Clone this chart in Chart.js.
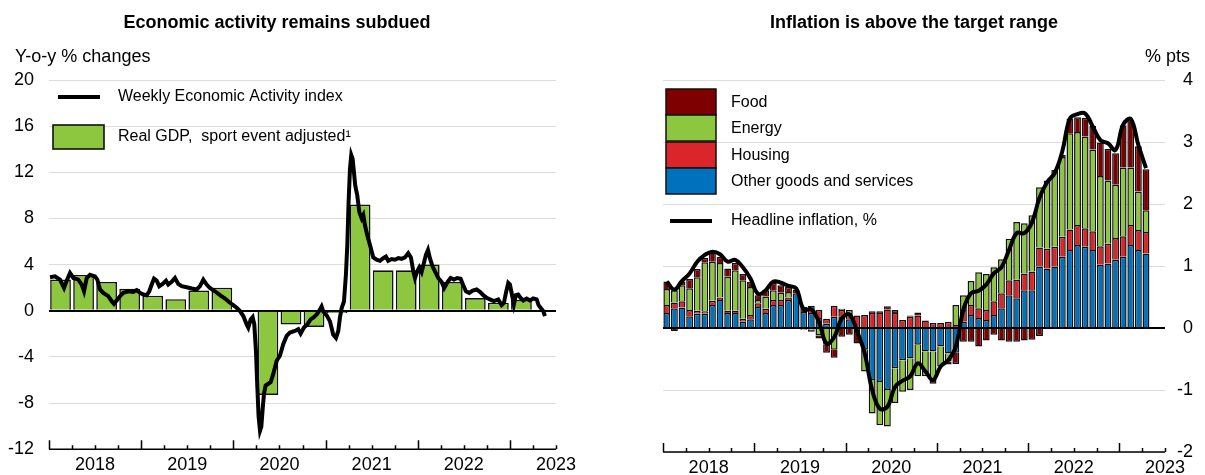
<!DOCTYPE html>
<html>
<head>
<meta charset="utf-8">
<script src="https://cdn.jsdelivr.net/npm/chart.js@4.4.0/dist/chart.umd.min.js"></script>
<style>
  body { margin: 0; background: #fff; }
  #wrap { position: relative; width: 1205px; height: 475px; }
  canvas { position: absolute; top: 0; }
  #left { left: 0; }
  #right { left: 600px; }
</style>
</head>
<body>
<div id="wrap">
  <canvas id="left" width="600" height="475"></canvas>
  <canvas id="right" width="605" height="475"></canvas>
</div>
<script>
const FONT = "Arial, 'Liberation Sans', sans-serif";
Chart.defaults.font.family = FONT;
Chart.defaults.color = '#000';

const yearLabels = [2018, 2019, 2020, 2021, 2022, 2023];

// Left: real GDP (quarterly, y-o-y %)
const gdpQuarters = ['2018Q1','2018Q2','2018Q3','2018Q4','2019Q1','2019Q2','2019Q3','2019Q4',
  '2020Q1','2020Q2','2020Q3','2020Q4','2021Q1','2021Q2','2021Q3','2021Q4',
  '2022Q1','2022Q2','2022Q3','2022Q4','2023Q1'];
const gdpValues = [2.7, 3.1, 2.5, 1.9, 1.3, 1.0, 1.75, 2.0,
  -0.1, -7.3, -1.2, -1.4, -0.2, 9.2, 3.5, 3.5,
  4.0, 2.5, 1.1, 0.7, 0.95];

// Left: weekly economic activity index (date as decimal year)
const waiDates = [2018.011,2018.065,2018.119,2018.163,2018.19,2018.228,2018.264,2018.318,2018.355,2018.38,
  2018.409,2018.445,2018.499,2018.524,2018.553,2018.589,2018.643,2018.68,2018.705,2018.734,
  2018.77,2018.806,2018.86,2018.914,2018.951,2018.987,2019.023,2019.06,2019.088,2019.114,
  2019.139,2019.168,2019.196,2019.233,2019.269,2019.294,2019.331,2019.367,2019.402,2019.439,
  2019.493,2019.548,2019.602,2019.638,2019.674,2019.71,2019.746,2019.8,2019.855,2019.909,
  2019.963,2019.999,2020.036,2020.072,2020.108,2020.144,2020.162,2020.188,2020.209,2020.227,
  2020.245,2020.26,2020.274,2020.289,2020.303,2020.317,2020.332,2020.35,2020.379,2020.404,
  2020.433,2020.47,2020.505,2020.541,2020.578,2020.614,2020.668,2020.704,2020.73,2020.766,
  2020.802,2020.838,2020.867,2020.904,2020.932,2020.957,2020.975,2021.012,2021.048,2021.083,
  2021.113,2021.138,2021.156,2021.175,2021.2,2021.221,2021.236,2021.25,2021.265,2021.279,
  2021.294,2021.308,2021.322,2021.344,2021.366,2021.392,2021.41,2021.427,2021.452,2021.482,
  2021.518,2021.554,2021.59,2021.626,2021.655,2021.68,2021.717,2021.753,2021.789,2021.825,
  2021.861,2021.897,2021.926,2021.952,2021.97,2021.995,2022.017,2022.042,2022.067,2022.089,
  2022.111,2022.132,2022.161,2022.187,2022.222,2022.259,2022.287,2022.324,2022.357,2022.393,
  2022.428,2022.465,2022.494,2022.523,2022.559,2022.596,2022.639,2022.675,2022.711,2022.748,
  2022.783,2022.826,2022.873,2022.91,2022.935,2022.957,2022.982,2023.0,2023.022,2023.043,
  2023.065,2023.09,2023.116,2023.145,2023.181,2023.217,2023.253,2023.29,2023.311,2023.333,
  2023.362,2023.38];
const waiValues = [2.9,2.98,2.7,1.98,2.55,3.27,2.84,2.7,2.27,1.69,
  2.84,3.12,2.98,2.7,1.84,1.55,1.26,0.83,0.6,0.89,
  1.26,1.55,1.69,1.64,1.78,1.55,1.41,1.35,1.69,2.27,
  2.78,2.61,2.13,2.33,2.61,2.27,2.5,2.84,2.33,2.13,
  2.04,1.93,1.84,2.13,2.7,2.27,1.98,1.69,1.35,1.06,
  0.69,0.49,0.26,-0.03,-0.46,-1.18,-1.46,-0.75,-0.55,-1.18,
  -3.47,-6.6,-9.2,-10.4,-10.06,-8.6,-7.2,-6.48,-6.33,-6.2,
  -5.48,-4.33,-3.9,-2.9,-2.18,-1.89,-1.75,-1.6,-1.98,-1.46,
  -1.18,-0.75,-0.6,-0.32,0.0,0.37,-0.06,-0.4,-0.92,-2.06,
  -2.35,-1.75,-0.6,0.23,0.8,3.12,5.7,9.43,12.3,13.5,
  13.16,12.0,10.87,10.0,8.57,8.0,8.28,7.43,6.57,5.7,
  4.62,4.42,4.33,4.56,4.7,4.33,4.48,4.42,4.56,4.5,
  4.62,4.99,4.62,3.41,2.84,3.41,3.76,3.36,4.13,4.85,
  5.27,4.56,3.84,3.41,2.84,2.5,1.98,2.5,2.84,2.7,
  2.84,2.78,2.21,1.69,1.55,1.75,1.84,1.64,1.35,1.12,
  0.98,0.83,0.98,0.49,0.69,1.55,2.41,2.27,1.41,0.55,
  1.35,1.41,1.12,0.89,1.06,0.89,1.06,0.98,0.49,0.26,
  -0.03,-0.46];

// Right: CPI contributions (monthly, % pts), Jan 2018 - Apr 2023
const cpiFirstYear = 2018;
const otherGoods = [0.24,0.32,0.33,0.19,0.23,0.23,0.37,0.45,0.24,0.24,0.10,0.14,
  0.34,0.24,0.37,0.37,0.45,0.56,0.26,0.24,0.16,0.07,0.18,0.19,
  0.14,-0.05,-0.35,-0.84,-0.87,-1.00,-0.65,-0.52,-0.49,-0.27,-0.38,-0.38,
  -0.30,-0.41,-0.40,0.10,0.21,0.16,0.13,0.21,0.32,0.53,0.48,0.61,
  0.61,0.99,0.96,0.99,1.15,1.26,1.34,1.31,1.26,1.02,1.04,1.10,
  1.15,1.34,1.26,1.20];
const housing = [0.13,0.09,0.10,0.10,0.05,0.04,0.07,0.04,0.04,0.04,0.05,0.07,
  0.06,0.07,0.08,0.08,0.04,0.00,0.00,0.12,0.13,0.08,0.18,0.10,
  0.10,0.20,0.21,0.24,0.24,0.30,0.24,0.13,0.18,0.20,0.12,0.08,
  0.08,0.10,0.05,0.19,0.16,0.16,0.16,0.22,0.24,0.24,0.30,0.27,
  0.30,0.31,0.32,0.32,0.32,0.33,0.32,0.30,0.30,0.30,0.32,0.35,
  0.33,0.32,0.32,0.35];
const energy = [0.26,0.20,0.26,0.35,0.54,0.79,0.63,0.56,0.55,0.65,0.62,0.45,
  0.05,0.20,0.16,0.12,0.09,0.00,-0.03,-0.03,-0.12,-0.27,-0.35,0.02,
  0.05,0.00,-0.35,-0.54,-0.70,-0.59,-0.56,-0.51,-0.51,-0.51,-0.40,-0.46,
  -0.32,-0.13,0.32,0.24,0.39,0.58,0.58,0.55,0.55,0.67,0.93,0.81,
  0.91,0.97,1.10,1.24,1.29,1.55,1.50,1.48,1.32,1.13,1.02,0.86,
  1.11,0.93,0.62,0.35];
const food = [0.12,-0.05,0.06,0.15,0.13,0.07,0.15,0.10,0.13,0.12,0.10,0.08,
  0.08,0.10,0.12,0.12,0.08,0.06,0.08,-0.03,-0.05,-0.13,-0.13,-0.14,
  -0.11,-0.20,0.00,0.03,0.03,0.05,0.05,0.00,0.02,0.05,0.00,-0.06,
  0.00,-0.05,-0.18,-0.22,-0.22,-0.30,-0.20,-0.11,-0.20,-0.22,-0.22,-0.20,
  -0.19,-0.13,-0.02,0.00,0.03,0.24,0.24,0.30,0.38,0.54,0.51,0.51,
  0.68,0.77,0.73,0.66];
const headline = [0.75,0.62,0.76,0.88,1.07,1.18,1.23,1.19,1.07,1.10,0.98,0.80,
  0.55,0.61,0.75,0.73,0.68,0.64,0.30,0.30,0.10,-0.25,-0.15,0.15,
  0.22,-0.05,-0.40,-1.00,-1.30,-1.27,-0.95,-0.85,-0.78,-0.57,-0.70,-0.84,
  -0.62,-0.52,-0.30,0.30,0.56,0.60,0.70,0.88,0.98,1.26,1.53,1.53,
  1.70,2.10,2.35,2.50,2.85,3.38,3.45,3.46,3.25,3.03,2.98,2.87,
  3.28,3.37,2.95,2.58];

const GREEN = '#8dc63f', DARKRED = '#7f0000', RED = '#dc242b', BLUE = '#0071bc';

const xMin = 2018, xMax = 2023.5;
const quarterX = q => { const [y, n] = q.split('Q'); return +y + (+n - 0.5) / 4; };
const monthX = i => cpiFirstYear + (i + 0.5) / 12;

// frame: bottom axis, year ticks and labels, title, unit
function framePlugin(cfg) {
  return {
    id: 'frame',
    afterDraw(chart) {
      const ctx = chart.ctx, xs = chart.scales.x, a = chart.chartArea;
      ctx.save();
      ctx.strokeStyle = '#000';
      ctx.lineWidth = 1.5;
      ctx.beginPath();
      ctx.moveTo(a.left, a.bottom);
      ctx.lineTo(a.right, a.bottom);
      for (const y of yearLabels) {
        for (let q = 0; q < 4; q++) {
          const v = y + q / 4;
          if (v > xMax) break;
          const px = Math.round(xs.getPixelForValue(v)) + 0.5;
          ctx.moveTo(px, a.bottom);
          ctx.lineTo(px, a.bottom - (q === 0 ? 9 : 4));
        }
      }
      ctx.stroke();
      ctx.fillStyle = '#000';
      ctx.font = '18px ' + FONT;
      ctx.textAlign = 'center';
      ctx.textBaseline = 'middle';
      for (const y of yearLabels) {
        ctx.fillText(String(y), xs.getPixelForValue(y + 0.5), a.bottom + 16);
      }
      ctx.font = 'bold 18px ' + FONT;
      ctx.fillText(cfg.title, cfg.titleX, 23);
      ctx.font = '18px ' + FONT;
      ctx.textAlign = cfg.unitAlign;
      ctx.fillText(cfg.unit, cfg.unitX, 57);
      cfg.legend(ctx);
      ctx.restore();
    }
  };
}

function legendText(ctx, text, x, y) {
  ctx.fillStyle = '#000';
  ctx.font = '16px ' + FONT;
  ctx.textAlign = 'left';
  ctx.textBaseline = 'middle';
  ctx.fillText(text, x, y);
}

const gridColor = ctx => (ctx.tick.value === 0 ? '#000' : '#dcdcdc');
const gridWidth = ctx => (ctx.tick.value === 0 ? 2 : 1);

// ---------- left chart ----------
new Chart(document.getElementById('left'), {
  data: {
    datasets: [
      {
        type: 'line',
        label: 'Weekly Economic Activity index',
        data: waiDates.map((d, i) => ({ x: d, y: waiValues[i] })),
        borderColor: '#000',
        borderWidth: 4,
        pointRadius: 0,
        tension: 0
      },
      {
        type: 'bar',
        label: 'Real GDP,  sport event adjusted\u00b9',
        data: gdpQuarters.map((q, i) => ({ x: quarterX(q), y: gdpValues[i] })),
        backgroundColor: GREEN,
        borderColor: '#111',
        borderWidth: 1.6,
        barPercentage: 0.9,
        categoryPercentage: 1
      }
    ]
  },
  options: {
    responsive: false,
    animation: false,
    layout: { padding: { top: 80, bottom: 23, left: 0, right: 44 } },
    plugins: { legend: { display: false }, tooltip: { enabled: false } },
    scales: {
      x: { type: 'linear', min: xMin, max: xMax, offset: false, display: false },
      y: {
        min: -12, max: 20,
        ticks: { stepSize: 4, padding: 15, font: { size: 18 } },
        grid: { color: gridColor, lineWidth: gridWidth, drawTicks: false },
        border: { display: false },
        afterFit: s => { s.width = 49; }
      }
    }
  },
  plugins: [framePlugin({
    title: 'Economic activity remains subdued', titleX: 277,
    unit: 'Y-o-y % changes', unitX: 15, unitAlign: 'left',
    legend: ctx => {
      ctx.strokeStyle = '#000';
      ctx.lineWidth = 4;
      ctx.beginPath(); ctx.moveTo(58, 97); ctx.lineTo(100, 97); ctx.stroke();
      legendText(ctx, 'Weekly Economic Activity index', 118, 97);
      ctx.fillStyle = GREEN;
      ctx.fillRect(53, 125, 51, 24);
      ctx.lineWidth = 1.6; ctx.strokeStyle = '#111';
      ctx.strokeRect(53, 125, 51, 24);
      legendText(ctx, 'Real GDP,  sport event adjusted\u00b9', 118, 137);
    }
  })]
});

// ---------- right chart ----------
const barSet = (label, values, color) => ({
  type: 'bar',
  label,
  data: values.map((v, i) => ({ x: monthX(i), y: v })),
  backgroundColor: color,
  borderColor: '#111',
  borderWidth: 1.5,
  barPercentage: 0.9,
  categoryPercentage: 1,
  stack: 'cpi'
});

const rightSets = [
  barSet('Other goods and services', otherGoods, BLUE),
  barSet('Housing', housing, RED),
  barSet('Energy', energy, GREEN),
  barSet('Food', food, DARKRED)
];

new Chart(document.getElementById('right'), {
  data: {
    datasets: [
      {
        type: 'line',
        label: 'Headline inflation, %',
        data: headline.map((v, i) => ({ x: monthX(i), y: v })),
        borderColor: '#000',
        borderWidth: 4,
        pointRadius: 0,
        tension: 0.4,
        stack: 'line'
      },
      ...rightSets
    ]
  },
  options: {
    responsive: false,
    animation: false,
    layout: { padding: { top: 80, bottom: 23, left: 63, right: 12 } },
    plugins: { legend: { display: false }, tooltip: { enabled: false } },
    scales: {
      x: { type: 'linear', min: xMin, max: xMax, offset: false, display: false, stacked: true },
      y: {
        position: 'right',
        stacked: true,
        min: -2, max: 4,
        ticks: { stepSize: 1, crossAlign: 'far', font: { size: 18 } },
        grid: { color: gridColor, lineWidth: gridWidth, drawTicks: false },
        border: { display: false },
        afterFit: s => { s.width = 28; }
      }
    }
  },
  plugins: [framePlugin({
    title: 'Inflation is above the target range', titleX: 314,
    unit: '% pts', unitX: 590, unitAlign: 'right',
    legend: ctx => {
      const items = [
        ['Food', DARKRED, 89, 103],
        ['Energy', GREEN, 115, 129],
        ['Housing', RED, 142, 156],
        ['Other goods and services', BLUE, 168, 182]
      ];
      for (const [t, c, top, mid] of items) {
        ctx.fillStyle = c;
        ctx.fillRect(66, top, 50, 26);
        ctx.lineWidth = 1.5; ctx.strokeStyle = '#111';
        ctx.strokeRect(66, top, 50, 26);
        legendText(ctx, t, 131, mid);
      }
      ctx.strokeStyle = '#000';
      ctx.lineWidth = 4;
      ctx.beginPath(); ctx.moveTo(70, 221); ctx.lineTo(112, 221); ctx.stroke();
      legendText(ctx, 'Headline inflation, %', 131, 221);
    }
  })]
});
</script>
</body>
</html>
